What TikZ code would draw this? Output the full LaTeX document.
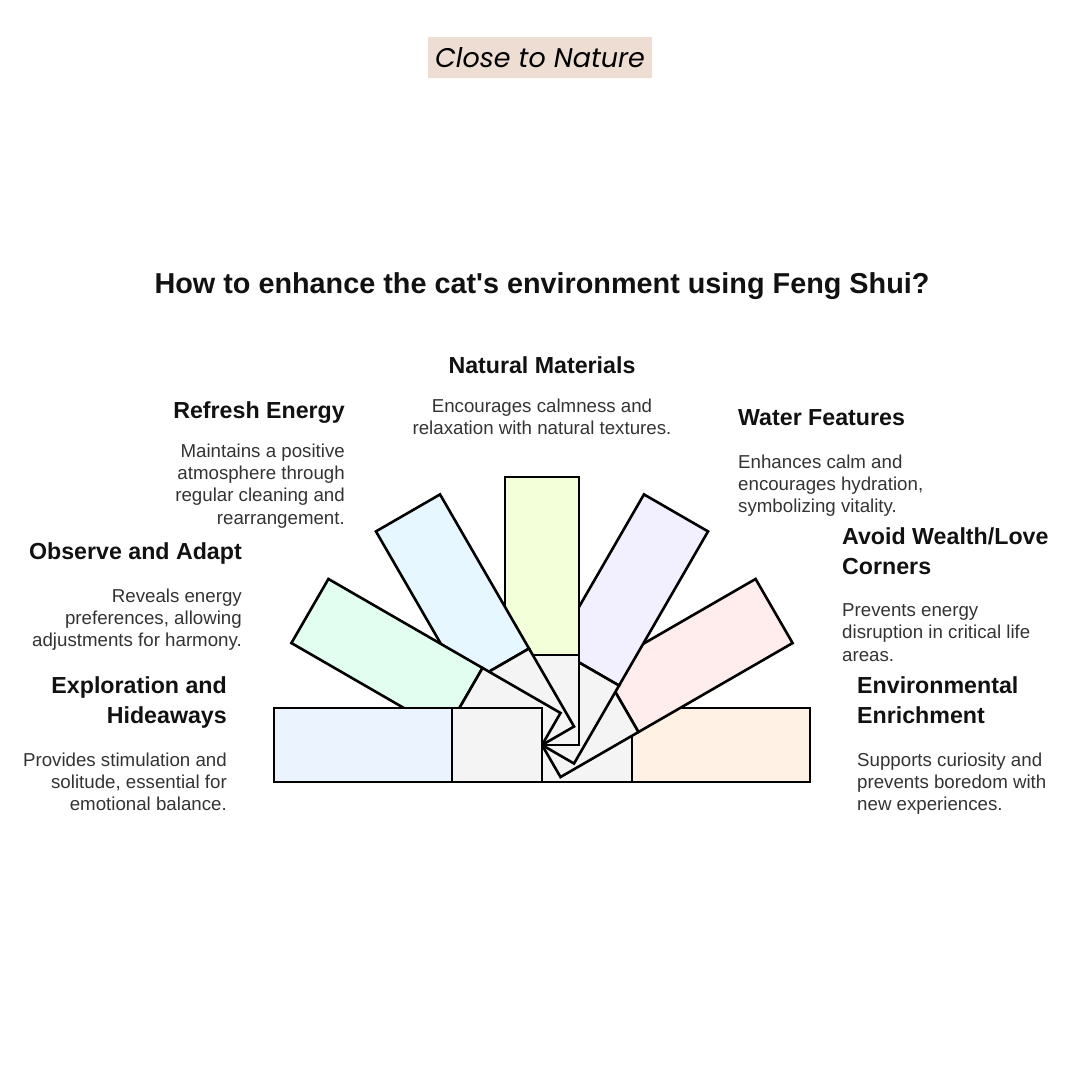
\documentclass[tikz,border=0pt]{standalone}
\usepackage{fontspec}
\setmainfont{Liberation Sans}
\newfontfamily\tagfont{Poppins}
\usepackage{xcolor}
\definecolor{sheet}{HTML}{F4F4F4}
\definecolor{tagbg}{HTML}{EDDDD2}
\definecolor{headtxt}{HTML}{111111}
\definecolor{bodytxt}{HTML}{333333}
\definecolor{explore}{HTML}{EBF3FF}
\definecolor{observe}{HTML}{E1FEF0}
\definecolor{refresh}{HTML}{E6F7FF}
\definecolor{natural}{HTML}{F2FFD9}
\definecolor{water}{HTML}{F2F0FF}
\definecolor{avoid}{HTML}{FFECEC}
\definecolor{enrich}{HTML}{FFF1E4}
\tikzset{
	tile/.style={draw=black,line width=2.6pt,line join=miter},
	head/.style={inner sep=0pt,text=headtxt,font=\fontsize{23.2}{30}\selectfont\bfseries},
	body/.style={inner sep=0pt,text=bodytxt,font=\fontsize{18.7}{22.3}\selectfont},
}
\begin{document}
\begin{tikzpicture}[x=1pt,y=1pt]
	\useasboundingbox (0,0) rectangle (1080,-1080);
	%tag at the top
	\node[fill=tagbg,rounded corners=1pt,minimum width=224pt,minimum height=41pt,inner sep=0pt,font=\tagfont\itshape\fontsize{27}{36}\selectfont] (tag) at (540,-57.5) {Close to Nature\hspace{6pt}};
	\node[inner sep=0pt,text=headtxt,font=\fontsize{28.8}{36}\selectfont\bfseries] (title) at (542,-286.5) {How to enhance the cat\textquotesingle s environment using Feng Shui?};
	%fan, last one on top
	\foreach \ang/\col in {180/enrich,150/avoid,120/water,90/natural,60/refresh,30/observe,0/explore}{
		\begin{scope}[shift={(542,-745)},rotate=-\ang]
			\draw[tile,fill=\col] (-268,-37) rectangle (-90,37);
			\draw[tile,fill=sheet] (-90,-37) rectangle (0,37);
		\end{scope}
	}
	%natural materials
	\node[head,anchor=north] (naturalhead) at (542,-356) {Natural Materials};
	\node[body,anchor=north,align=center] (naturalbody) at (542,-398.5) {Encourages calmness and\\relaxation with natural textures.};
	%refresh energy
	\node[head,anchor=north east] (refreshhead) at (345,-401) {Refresh Energy};
	\node[body,anchor=north east,align=right] (refreshbody) at (345,-443.5) {Maintains a positive\\atmosphere through\\regular cleaning and\\rearrangement.};
	%water features
	\node[head,anchor=north west] (waterhead) at (738,-409) {Water Features};
	\node[body,anchor=north west,align=left] (waterbody) at (738,-454.5) {Enhances calm and\\encourages hydration,\\symbolizing vitality.};
	%observe and adapt
	\node[head,anchor=north east] (observehead) at (242,-542) {Observe and Adapt};
	\node[body,anchor=north east,align=right] (observebody) at (242,-588.5) {Reveals energy\\preferences, allowing\\adjustments for harmony.};
	%avoid corners
	\node[head,anchor=north west,align=left] (avoidhead) at (842,-527) {Avoid Wealth/Love\\Corners};
	\node[body,anchor=north west,align=left] (avoidbody) at (842,-603.5) {Prevents energy\\disruption in critical life\\areas.};
	%exploration
	\node[head,anchor=north east,align=right] (explorehead) at (227,-676) {Exploration and\\Hideaways};
	\node[body,anchor=north east,align=right] (explorebody) at (227,-752.5) {Provides stimulation and\\solitude, essential for\\emotional balance.};
	%enrichment
	\node[head,anchor=north west,align=left] (enrichhead) at (857,-676) {Environmental\\Enrichment};
	\node[body,anchor=north west,align=left] (enrichbody) at (857,-752.5) {Supports curiosity and\\prevents boredom with\\new experiences.};
\end{tikzpicture}
\end{document}
